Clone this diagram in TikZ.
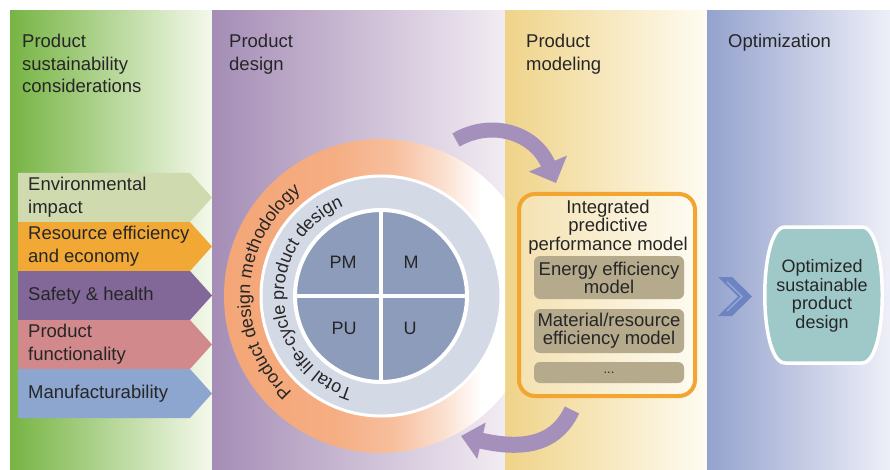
\documentclass[tikz,border=0pt]{standalone}
\usepackage{fontspec}
\setmainfont{Liberation Sans}
\usetikzlibrary{arrows.meta,decorations.text}
\definecolor{txt}{HTML}{262626}
\definecolor{gL}{HTML}{76B443}
\definecolor{gR}{HTML}{F5F9EC}
\definecolor{pL}{HTML}{A58DB6}
\definecolor{pR}{HTML}{F2ECF3}
\definecolor{yL}{HTML}{EFD389}
\definecolor{yR}{HTML}{FEFCF2}
\definecolor{bL}{HTML}{94A2CD}
\definecolor{bR}{HTML}{EEEFF8}
\definecolor{envc}{HTML}{CFDBAF}
\definecolor{resc}{HTML}{F1A835}
\definecolor{safc}{HTML}{826898}
\definecolor{func}{HTML}{D1898B}
\definecolor{manc}{HTML}{8CA6CF}
\definecolor{orng}{HTML}{F4A677}
\definecolor{ringc}{HTML}{D4D9E6}
\definecolor{quadc}{HTML}{8D9CBB}
\definecolor{arrowc}{HTML}{A58FBB}
\definecolor{modb}{HTML}{F2A530}
\definecolor{innc}{HTML}{B6AA8D}
\definecolor{chevc}{HTML}{6D84C3}
\definecolor{chevl}{HTML}{93A5D6}
\definecolor{optc}{HTML}{9FC9C9}
\pgfdeclarehorizontalshading{orfade}{100bp}{color(0bp)=(orng); color(25bp)=(orng); color(42bp)=(orng!92!white); color(52bp)=(orng!72!white); color(60bp)=(orng!35!white); color(66bp)=(white); color(100bp)=(white)}
\begin{document}
\begin{tikzpicture}[x=1pt,y=1pt,
  every node/.style={text=txt, inner sep=0pt},
  ttl/.style={anchor=north west, align=left, font=\fontsize{18.5}{22.5}\selectfont},
  lab/.style={anchor=west, align=left, font=\fontsize{18.5}{23}\selectfont},
  qlab/.style={font=\fontsize{18}{20}\selectfont},
  innerbox/.style={fill=innc, rounded corners=6pt, minimum width=150, align=center, font=\fontsize{18.5}{18}\selectfont},
  bigarrow/.style={draw=arrowc, line width=15pt, -{Triangle[length=21pt,width=40pt]}}
]
\useasboundingbox (0,0) rectangle (890,469);
\fill[white] (0,0) rectangle (890,469);
% panels
\shade[left color=gL, right color=gR] (10,0) rectangle (212,458);
\shade[left color=pL, right color=pR] (212,0) rectangle (505,458);
\shade[left color=yL, right color=yR] (505,0) rectangle (707,458);
\shade[left color=bL, right color=bR] (707,0) rectangle (890,458);
% titles
\node[ttl] (t1) at (22,435) {Product\\sustainability\\considerations};
\node[ttl] (t2) at (229,435) {Product\\design};
\node[ttl] (t3) at (526,435) {Product\\modeling};
\node[ttl] (t4) at (728,435) {Optimization};
% left chevrons
\fill[envc] (18,296) -- (190,296) -- (212,271.5) -- (190,247) -- (18,247) -- cycle;
\fill[resc] (18,247) -- (190,247) -- (212,222.5) -- (190,198) -- (18,198) -- cycle;
\fill[safc] (18,198) -- (190,198) -- (212,173.5) -- (190,149) -- (18,149) -- cycle;
\fill[func] (18,149) -- (190,149) -- (212,124.5) -- (190,100) -- (18,100) -- cycle;
\fill[manc] (18,100) -- (190,100) -- (212,75.5) -- (190,51) -- (18,51) -- cycle;
\node[lab] (env) at (28,271.5) {Environmental\\impact};
\node[lab] (res) at (28,222.5) {Resource efficiency\\and economy};
\node[lab] (saf) at (28,173.5) {Safety \& health};
\node[lab] (fun) at (28,124.5) {Product\\functionality};
\node[lab] (man) at (28,75.5) {Manufacturability};
% circle
\coordinate (C) at (381,173);
\begin{scope}
\clip (212,0) rectangle (505,458);
\shade[shading=orfade] (C) circle[radius=157];
\end{scope}
\fill[ringc] (C) circle[radius=120];
\draw[white, line width=3pt] (C) circle[radius=120];
\fill[quadc] (C) circle[radius=85];
\draw[white, line width=4pt] (C) circle[radius=86];
\draw[white, line width=4pt] (C) ++(-86,0) -- ++(172,0);
\draw[white, line width=4pt] (C) ++(0,-86) -- ++(0,172);
\node[qlab] (pm) at (343,207) {PM};
\node[qlab] (m) at (411,207) {M};
\node[qlab] (pu) at (344,141) {PU};
\node[qlab] (u) at (410,141) {U};
\path[decorate, decoration={text along path, text align=center,
  text={|\color{txt}\fontsize{18}{20}\selectfont|Product design methodology}}]
  (C) ++(267.5:131) arc[start angle=267.5, end angle=87.5, radius=131];
\path[decorate, decoration={text along path, text align=center,
  text={|\color{txt}\fontsize{18}{20}\selectfont|Total life-cycle product design}}]
  (C) ++(273:97) arc[start angle=273, end angle=93, radius=97];
% model box
\node[draw=modb, line width=4pt, rounded corners=16pt, fill=white, fill opacity=0.3, minimum width=176, minimum height=202] (model) at (607,174) {};
\node[align=center, font=\fontsize{18.5}{17}\selectfont] (mt) at (608,242) {Integrated\\predictive\\performance model};
\node[innerbox, minimum height=43] (e1) at (609,191.5) {Energy efficiency\\model};
\node[innerbox, minimum height=44] (e2) at (609,138) {Material/resource\\efficiency model};
\node[innerbox, minimum height=21, font=\fontsize{13}{14}\selectfont] (e3) at (609,96.5) {...};
% curved arrows
\coordinate (a1s) at (456,329);
\coordinate (a1e) at (556,286);
\draw[bigarrow] (a1s) .. controls (492,350) and (535,336) .. (a1e);
\coordinate (a2s) at (572,59);
\coordinate (a2e) at (461,33);
\draw[bigarrow, line width=16pt, -{Triangle[length=21pt,width=36pt]}] (a2s) .. controls (558,29) and (530,17) .. (a2e);
% chevron
\fill[chevc] (718,192) -- (732,192) -- (752,172.5) -- (732,153) -- (718,153) -- (738,172.5) -- cycle;
\draw[chevl, line width=1.5pt] (727,187) -- (742,172.5) -- (727,158);
% optimized design
\draw[fill=optc, draw=white, line width=3.5pt] (785,242) -- (862,242) .. controls (889,242) and (889,106) .. (862,106) -- (785,106) .. controls (758,106) and (758,242) .. (785,242) -- cycle;
\node[align=center, font=\fontsize{18}{18.5}\selectfont] (opt) at (822,173) {Optimized\\sustainable\\product\\design};
\end{tikzpicture}
\end{document}
